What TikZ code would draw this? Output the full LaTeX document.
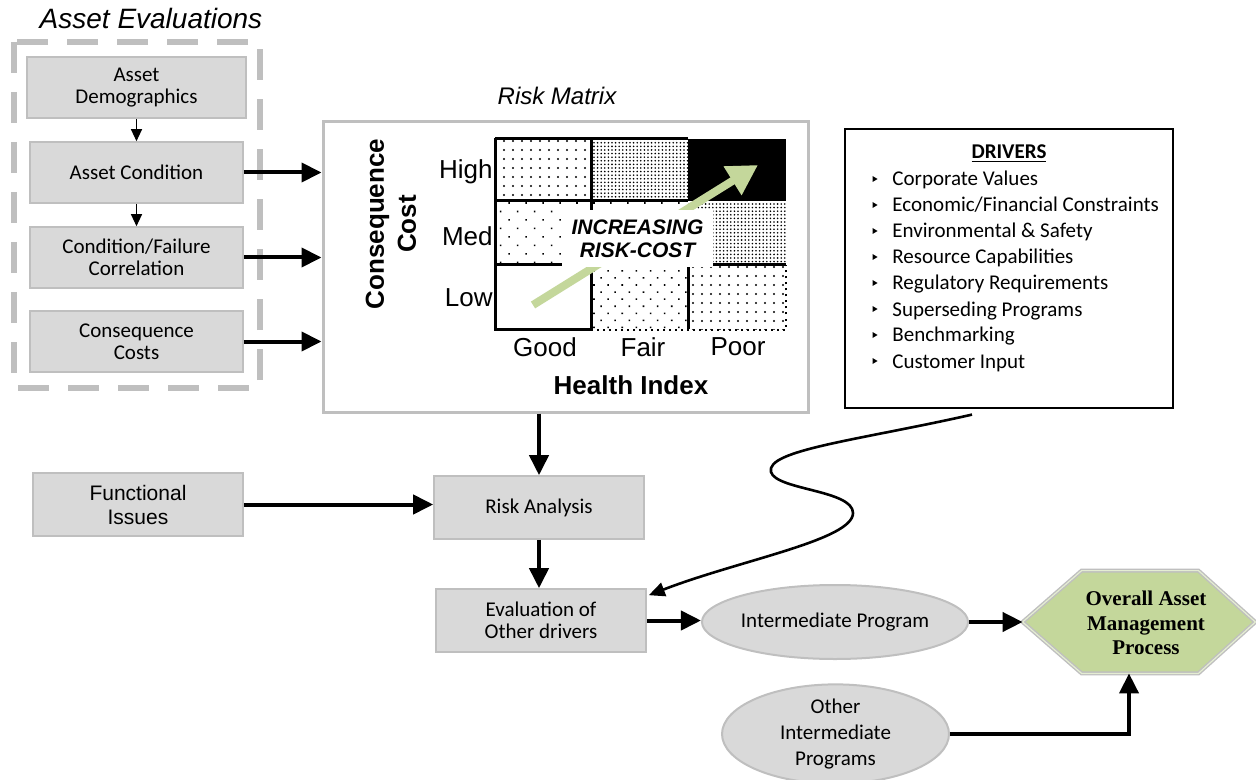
\documentclass[tikz,border=0pt]{standalone}
\usepackage{fontspec}
\setmainfont{Carlito}
\newfontfamily\arialf{Liberation Sans}
\newfontfamily\timesf{Liberation Serif}
\usetikzlibrary{arrows.meta,shapes.geometric,patterns.meta,calc,backgrounds}
\definecolor{boxfill}{HTML}{D9D9D9}
\definecolor{boxline}{HTML}{BFBFBF}
\definecolor{leaf}{HTML}{C4D79B}
\definecolor{leafline}{HTML}{E4EDD2}
\begin{document}
\begin{tikzpicture}[x=0.5pt,y=-0.5pt,
  box/.style={draw=boxline, line width=0.8pt, fill=boxfill, inner sep=0pt,
    minimum width=106.5pt, minimum height=30.5pt, align=center,
    font=\fontsize{10.5}{11}\selectfont},
  oval/.style={ellipse, draw=boxline, line width=1pt, fill=boxfill, inner sep=0pt,
    align=center, font=\fontsize{10.5}{13}\selectfont},
  bigarrow/.style={line width=2pt, -{Triangle[length=10pt,width=9.5pt]}},
  smallarrow/.style={line width=0.6pt, -{Triangle[length=6pt,width=5.5pt]}},
  curvyarrow/.style={line width=1.3pt, -{Triangle[length=8pt,width=7pt]}},
  axislabel/.style={font=\arialf\fontsize{13}{15}\selectfont, inner sep=0pt},
  gridline/.style={line width=1.5pt},
  sparse/.style={pattern={Dots[distance=4.5pt,radius=0.55pt]}},
  stagger/.style={pattern={Dots[distance=6pt,angle=45,radius=0.55pt]}},
  staggerb/.style={pattern={Dots[distance=5pt,angle=45,radius=0.55pt]}},
  densedots/.style={pattern={Dots[distance=1.8pt,radius=0.45pt]}},
  drvtext/.style={font=\fontsize{10.5}{12}\selectfont, inner sep=0pt}
]
\useasboundingbox (0,0) rectangle (1256,780);

% ---------- Asset evaluations group ----------
\node[font=\arialf\itshape\fontsize{14}{16}\selectfont] (lblAE) at (151,18) {Asset Evaluations};
\draw[boxline, line width=3pt, dash pattern=on 15.5pt off 9.5pt] (14,42) rectangle (260,388);

\node[box, minimum width=109.5pt] (demo) at (136.5,87.5) {Asset\\Demographics};
\node[box] (cond) at (136.5,172.5) {Asset Condition};
\node[box] (corr) at (136.5,257.5) {Condition/Failure\\Correlation};
\node[box] (cost) at (136.5,341.5) {Consequence\\Costs};

\draw[smallarrow] (demo.south) -- (cond.north);
\draw[smallarrow] (cond.south) -- (corr.north);

% ---------- Risk matrix ----------
\node[font=\arialf\itshape\fontsize{12}{14}\selectfont] (lblRM) at (557,96) {Risk Matrix};
\node[draw=boxline, line width=1.5pt, fill=white, inner sep=0pt,
      minimum width=242.5pt, minimum height=145pt] (risk) at (565.5,267) {};

\draw[bigarrow] (cond.east) -- (cond.east -| risk.west);
\draw[bigarrow] (corr.east) -- (corr.east -| risk.west);
\draw[bigarrow] (cost.east) -- (cost.east -| risk.west);

% cells: columns Good / Fair / Poor, rows High / Med / Low
\fill[sparse]    (495,139) rectangle (591,201);
\fill[densedots] (591,139) rectangle (688,201);
\fill[black]     (688,139) rectangle (786,201);
\fill[stagger]   (495,201) rectangle (591,265);
\fill[stagger]   (591,201) rectangle (688,265);
\fill[densedots] (688,203) rectangle (786,265);
\fill[staggerb]  (591,265) rectangle (688,329);
\fill[sparse]    (688,265) rectangle (786,329);

% grid lines
\draw[gridline] (495,139) -- (688,139);
\draw[gridline] (495,138.25) -- (495,329.75) -- (591,329.75);
\draw[gridline] (495,201) -- (688,201);
\draw[gridline] (495,265) -- (786,265);
\draw[gridline] (591,139) -- (591,329);
\draw[gridline] (688,265) -- (688,329);
\draw[line width=1pt, dotted] (591,329.5) -- (786,329.5) -- (786,265);

% increasing risk arrow and its label
\draw[leaf, line width=4pt, -{Triangle[length=15pt,width=16pt]}] (533,305) -- (758,165);
\node[fill=white, inner sep=0pt, minimum width=75.5pt, minimum height=28.5pt,
      font=\arialf\bfseries\itshape\fontsize{10.5}{11.5}\selectfont, align=center]
      (inc) at (637.5,238.5) {INCREASING\\RISK-COST};

% axis labels
\node[rotate=90, font=\arialf\bfseries\fontsize{13}{16}\selectfont, align=center]
      (cc) at (391,224) {Consequence\\Cost};
\node[axislabel, anchor=east] (high) at (493,172) {High};
\node[axislabel, anchor=east] (med)  at (493,236) {Med};
\node[axislabel, anchor=east] (low)  at (493,298) {Low};
\node[axislabel] (good) at (545,347) {Good};
\node[axislabel] (fair) at (643,347) {Fair};
\node[axislabel] (poor) at (738,347) {Poor};
\node[axislabel, font=\arialf\bfseries\fontsize{13}{15}\selectfont] (hi) at (631,385) {Health Index};

% ---------- Drivers ----------
\node[draw=black, line width=0.6pt, fill=white, inner sep=0pt,
      minimum width=164pt, minimum height=139.5pt] (drivers) at (1009,268.5) {};
\node[font=\bfseries\fontsize{10.5}{12}\selectfont, inner sep=0pt] (drvtitle) at (1009,154) {\underline{DRIVERS}};
\foreach \t [count=\i] in {Corporate Values, Economic/Financial Constraints,
    Environmental \& Safety, Resource Capabilities, Regulatory Requirements,
    Superseding Programs, Benchmarking, Customer Input}{
  \pgfmathsetmacro{\yy}{179+26*(\i-1)}
  \fill (872.5,\yy-3) -- (877.5,\yy) -- (872.5,\yy+3) -- cycle;
  \node[drvtext, anchor=base west] (drv\i) at (892,\yy+7) {\t};
}

% ---------- Lower flow ----------
\node[box, minimum width=105pt, minimum height=31.5pt, font=\arialf\fontsize{10.5}{12}\selectfont]
      (func) at (138,504.5) {Functional\\Issues};
\node[box, minimum width=105pt, minimum height=31.5pt] (ra) at (539,507.5) {Risk Analysis};
\node[box, minimum width=105pt, minimum height=31.5pt] (ev) at (541,620.5) {Evaluation of\\Other drivers};

\node[oval, minimum width=131pt, minimum height=37pt] (ip) at (835,622) {Intermediate Program};
\node[oval, minimum width=113.5pt, minimum height=46pt] (oip) at (835.5,734) {Other\\Intermediate\\Programs};

% hexagonal end node: the node gives the anchors, the outline is drawn behind it
\node[inner sep=0pt, minimum width=116pt, minimum height=51pt] (oamp) at (1139,622) {};
\begin{scope}[on background layer]
  \draw[draw=boxline, double=leafline, double distance=0.6pt, line width=0.7pt, fill=leaf]
    (oamp.west) -- ([xshift=29.5pt]oamp.north west) -- ([xshift=-28.5pt]oamp.north east)
    -- (oamp.east) -- ([xshift=-28.5pt]oamp.south east) -- ([xshift=29.5pt]oamp.south west)
    -- cycle;
\end{scope}
\node[font=\timesf\bfseries\fontsize{10.5}{12.25}\selectfont, align=center, inner sep=0pt]
      (oamptext) at (1146,623) {Overall Asset\\Management\\Process};

\draw[bigarrow] (ra.north |- risk.south) -- (ra.north);
\draw[bigarrow] (func.east) -- (func.east -| ra.west);
\draw[bigarrow] (ra.south) -- (ra.south |- ev.north);
\draw[bigarrow] (ev.east) -- (ev.east -| ip.west);
\draw[bigarrow] (ip.east) -- (oamp.west);
\draw[bigarrow] (oip.east) -| ([xshift=-5pt]oamp.south);

\draw[curvyarrow] ($(drivers.south)+(-37,6)$)
   .. controls (860,440) and (765,450) .. (771,472)
   .. controls (776,490) and (853,490) .. (853,513)
   .. controls (853,540) and (740,560) .. ($(ev.north east)+(2,7)$);
\end{tikzpicture}
\end{document}
